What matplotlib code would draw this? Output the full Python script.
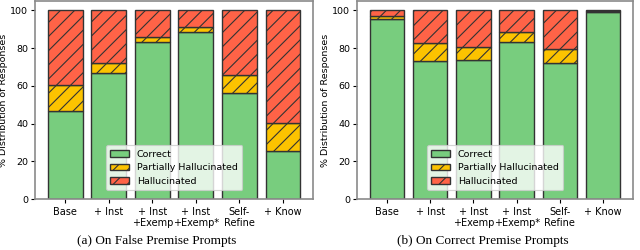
import numpy as np
import matplotlib
matplotlib.use("Agg")
import matplotlib.pyplot as plt

methods = ["Base", "+ Inst", "+ Inst\n+Exemp", "+ Inst\n+Exemp*", "Self-\nRefine", "+ Know"]

# (a) false premise prompts
false_correct = [46.5, 66.6, 83.2, 88.7, 56.0, 25.3]
false_partial = [14.0, 5.6, 2.5, 2.3, 9.9, 14.8]
false_halluc = [39.5, 27.8, 14.3, 9.0, 34.1, 59.9]

# (b) correct premise prompts
true_correct = [95.2, 73.3, 73.5, 83.2, 71.9, 99.4]
true_partial = [2.1, 9.5, 6.9, 5.1, 7.4, 0.2]
true_halluc = [2.7, 17.2, 19.6, 11.7, 20.7, 0.4]

green = "#78cd7e"
yellow = "#fcc300"
red = "#ff6347"

# hatch spacing depends on dpi, 85 gets it close to the original
DPI = 85
S = 100 / DPI

plt.rcParams["hatch.linewidth"] = 0.8 * S


def draw(ax, correct, partial, halluc):
    x = np.arange(len(methods))
    correct = np.array(correct)
    partial = np.array(partial)
    halluc = np.array(halluc)
    ax.bar(x, correct, 0.8, color=green, edgecolor="#333333", linewidth=1.0 * S,
           label="Correct")
    ax.bar(x, partial, 0.8, bottom=correct, color=yellow, edgecolor="#333333",
           linewidth=1.0 * S, hatch="//", label="Partially Hallucinated")
    ax.bar(x, halluc, 0.8, bottom=correct + partial, color=red,
           edgecolor="#333333", linewidth=1.0 * S, hatch="//", label="Hallucinated")
    ax.set_xticks(x)
    ax.set_xticklabels(methods, fontsize=7 * S, linespacing=1.05)
    ax.set_ylim(0, 105)
    ax.set_yticks([0, 20, 40, 60, 80, 100])
    ax.tick_params(axis="y", labelsize=6.8 * S, pad=2 * S)
    ax.tick_params(axis="x", pad=3 * S)
    ax.tick_params(length=3 * S, width=0.8 * S)
    ax.set_ylabel("% Distribution of Responses", fontsize=6.8 * S, labelpad=1.5 * S)
    for s in ax.spines.values():
        s.set_color("#8a8a8a")
        s.set_linewidth(1.2 * S)
    ax.legend(loc="lower center", fontsize=6.8 * S, framealpha=0.8,
              borderpad=0.5, handlelength=2.0, labelspacing=0.45,
              bbox_to_anchor=(0.5, 0.02))


fig = plt.figure(figsize=(640 / DPI, 250 / DPI), dpi=DPI)
ax1 = fig.add_axes([0.055, 0.204, 0.434, 0.792])
ax2 = fig.add_axes([0.558, 0.204, 0.431, 0.792])

draw(ax1, false_correct, false_partial, false_halluc)
draw(ax2, true_correct, true_partial, true_halluc)

fig.text(0.245, 0.035, "(a) On False Premise Prompts", ha="center", va="center",
         family="Liberation Serif", fontsize=9.5 * S)
fig.text(0.755, 0.035, "(b) On Correct Premise Prompts", ha="center", va="center",
         family="Liberation Serif", fontsize=9.5 * S)

fig.savefig("out.png", dpi=DPI)
